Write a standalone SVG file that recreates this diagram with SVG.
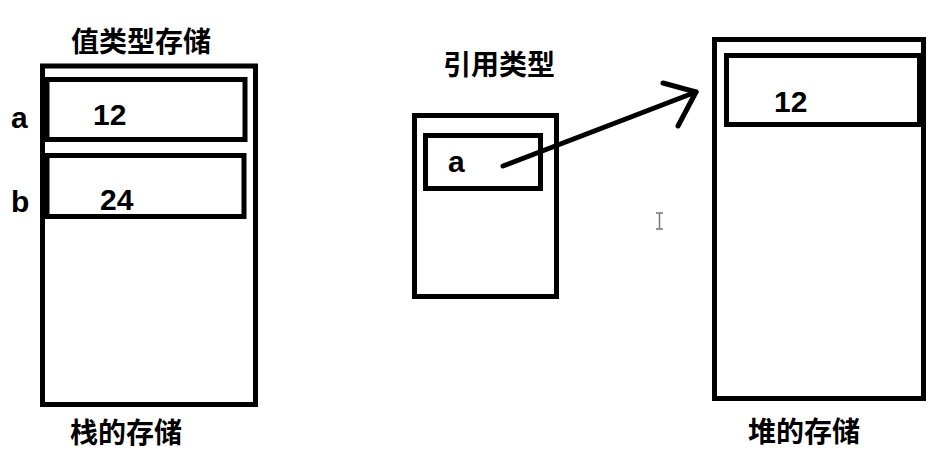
<svg xmlns="http://www.w3.org/2000/svg" width="947" height="465" viewBox="0 0 947 465">
<style>
.box{fill:none;stroke:#000;stroke-width:5}
.cn{font-family:"Noto Sans CJK SC","Liberation Sans",sans-serif;font-weight:bold;font-size:28px;fill:#000}
.lt{font-family:"Liberation Sans",Arial,sans-serif;font-weight:bold;font-size:30px;fill:#000}
.arrow{fill:none;stroke:#000;stroke-width:5;stroke-linecap:round;stroke-linejoin:round}
</style>
<rect width="947" height="465" fill="#fff"/>
<g id="stack">
<text class="cn" x="71" y="52">值类型存储</text>
<rect class="box" x="42.5" y="66" width="213" height="338.5"/>
<text class="cn" x="70" y="443">栈的存储</text>
</g>
<g id="stack-a">
<rect class="box" x="47" y="79.5" width="198" height="60"/>
<text class="lt" x="11" y="128">a</text>
<text class="lt" x="93" y="125">12</text>
</g>
<g id="stack-b">
<rect class="box" x="47" y="155.5" width="197" height="61"/>
<text class="lt" x="11" y="212">b</text>
<text class="lt" x="100" y="210">24</text>
</g>
<g id="ref">
<text class="cn" x="443" y="75">引用类型</text>
<rect class="box" x="414.5" y="115.5" width="142" height="181"/>
</g>
<g id="ref-a">
<rect class="box" x="425.5" y="135.5" width="115" height="53"/>
<text class="lt" x="448" y="172">a</text>
</g>
<g id="heap">
<rect class="box" x="714.5" y="39.5" width="209" height="359"/>
<text class="cn" x="748" y="442">堆的存储</text>
</g>
<g id="heap-12">
<rect class="box" x="726.5" y="55.5" width="193" height="69"/>
<text class="lt" x="774" y="112">12</text>
</g>
<g id="connectors">
<path class="arrow" d="M503,166 L696,92"/>
<path class="arrow" d="M663,83 L696,92 L678,126"/>
</g>
<g id="cursor" fill="none" stroke="#777" stroke-width="1.5">
<path d="M656,213 H663 M659.5,213 V229 M656,229 H663"/>
</g>
</svg>
